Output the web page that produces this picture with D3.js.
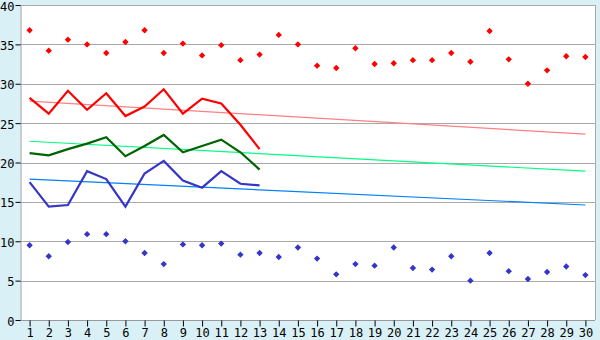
<!DOCTYPE html>
<html>
<head>
<meta charset="utf-8">
<script src="https://cdn.jsdelivr.net/npm/d3@7"></script>
<style>
  body { margin:0; background:#daf0f7; }
  svg { display:block; }
</style>
</head>
<body>
<div class="container"></div>
<script>
const days = d3.range(1, 31);
const yTicks = [0, 5, 10, 15, 20, 25, 30, 35, 40];

const maxPoints = [36.8,34.2,35.6,35.0,33.9,35.3,36.8,33.9,35.1,33.6,34.9,33.0,33.7,36.2,35.0,32.3,32.0,34.5,32.5,32.6,33.0,33.0,33.9,32.8,36.7,33.1,30.0,31.7,33.5,33.4];
const minPoints = [9.5,8.1,9.9,10.9,10.9,10.0,8.5,7.1,9.6,9.5,9.7,8.3,8.5,8.0,9.2,7.8,5.8,7.1,6.9,9.2,6.6,6.4,8.1,5.0,8.5,6.2,5.2,6.1,6.8,5.7];
const redLine = [28.2,26.2,29.1,26.7,28.8,25.9,27.1,29.3,26.2,28.1,27.5,24.8,21.7];
const greenLine = [21.2,20.9,21.7,22.4,23.2,20.8,22.1,23.5,21.3,22.1,22.9,21.3,19.1];
const blueLine = [17.5,14.4,14.6,18.9,17.9,14.4,18.6,20.2,17.7,16.8,18.9,17.3,17.1];
// trend line end points [day, value]
const redTrend = [[1, 27.8], [30, 23.6]];
const greenTrend = [[1, 22.7], [30, 18.9]];
const blueTrend = [[1, 17.9], [30, 14.6]];

const width = 600, height = 340;
const pLeft = 20, pRight = 595, pTop = 5, pBottom = 320;

const svg = d3.select(".container").append("svg").attr("width", width).attr("height", height);

const xScale = d3.scalePoint().domain(days).range([pLeft, pRight]).padding(0.5);
const yScale = d3.scaleLinear().domain([0, 40]).range([pBottom, pTop]);

svg.append("rect").attr("x", pLeft).attr("y", pTop).attr("width", pRight - pLeft).attr("height", pBottom - pTop).attr("fill", "white");

// grid
svg.append("g").selectAll("line").data(yTicks.filter(d => d > 0)).enter().append("line")
  .attr("x1", pLeft).attr("x2", pRight)
  .attr("y1", d => yScale(d) + 0.5).attr("y2", d => yScale(d) + 0.5)
  .attr("stroke", "#aaaaaa").attr("shape-rendering", "crispEdges");
svg.append("line").attr("x1", pRight + 0.5).attr("x2", pRight + 0.5).attr("y1", pTop).attr("y2", pBottom)
  .attr("stroke", "#aaaaaa").attr("shape-rendering", "crispEdges");

const xAxis = d3.axisBottom(xScale).tickSize(6).tickPadding(2).tickSizeOuter(0);
const gx = svg.append("g").attr("transform", `translate(0,${pBottom + 0.5})`)
  .style("font-family", "DejaVu Sans Mono").style("font-size", 12).call(xAxis);
gx.select(".domain").attr("d", `M${pLeft},0H${pRight}`).attr("stroke", "#999999");
gx.selectAll(".tick line").attr("stroke", "#000");
gx.selectAll(".tick text").attr("fill", "#000");

const yAxis = d3.axisLeft(yScale).tickValues(yTicks).tickSize(5).tickSizeOuter(0);
const gy = svg.append("g").attr("transform", `translate(${pLeft + 0.5},0)`)
  .style("font-family", "DejaVu Sans Mono").style("font-size", 12).call(yAxis);
gy.select(".domain").attr("stroke", "#999999");
gy.selectAll(".tick text").attr("fill", "#000").attr("x", -6).attr("dy", "0.42em");

// trends
const tline = d3.line().x(d => xScale(d[0])).y(d => yScale(d[1]));
[[redTrend, "#ff8080"], [greenTrend, "#00ff80"], [blueTrend, "#0080ff"]].forEach(([t, c]) => {
  svg.append("path").attr("d", tline(t)).attr("fill", "none").attr("stroke", c).attr("stroke-width", 1.2);
});

// series lines
const sline = d3.line().x((d, i) => xScale(days[i])).y(d => yScale(d));
[[redLine, "#ff0000"], [greenLine, "#006400"], [blueLine, "#3535c8"]].forEach(([s, c]) => {
  svg.append("path").attr("d", sline(s)).attr("fill", "none").attr("stroke", c).attr("stroke-width", 2.2);
});

// markers
const sym = d3.symbol().type(d3.symbolDiamond2).size(26);
[[maxPoints, "#ff0000"], [minPoints, "#3535c8"]].forEach(([s, c]) => {
  svg.append("g").selectAll("path").data(s).enter().append("path")
    .attr("d", sym)
    .attr("transform", (d, i) => `translate(${xScale(days[i])},${yScale(d)})`)
    .attr("fill", c);
});
</script>
</body>
</html>
